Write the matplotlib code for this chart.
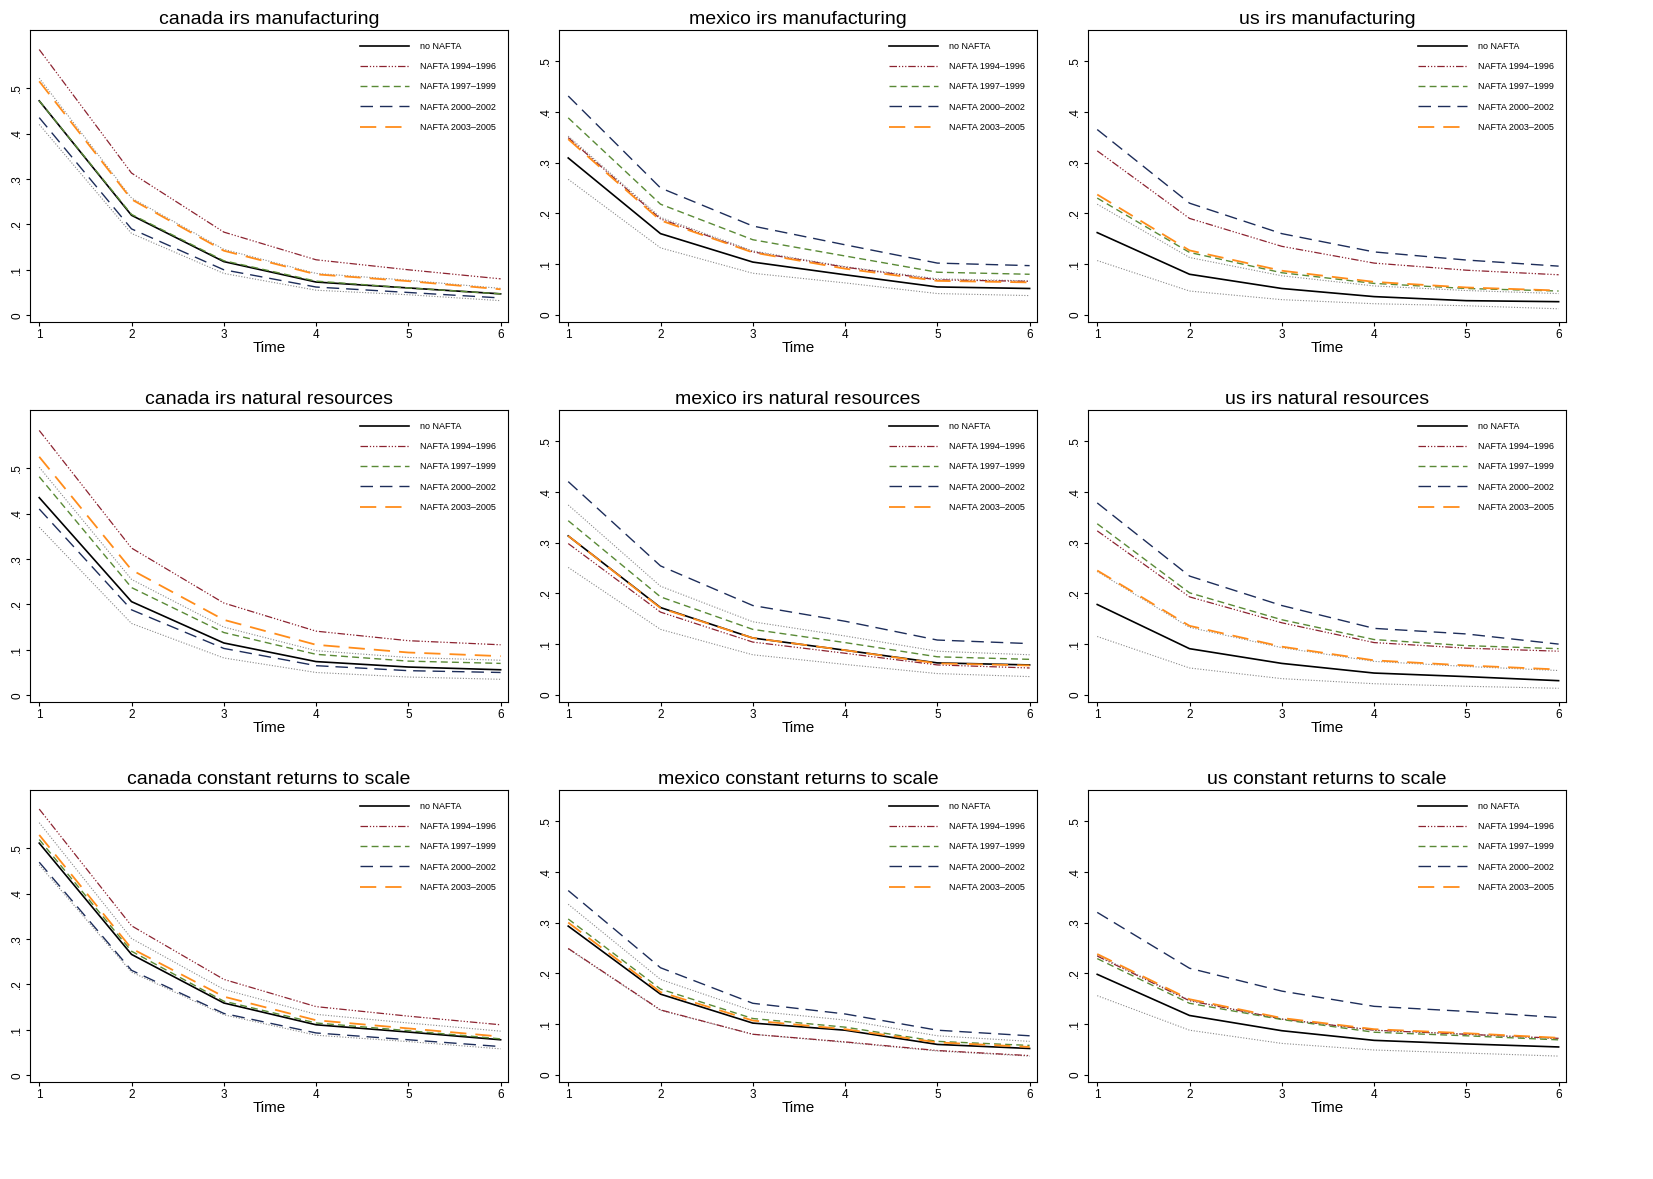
import matplotlib

matplotlib.use("Agg")
import matplotlib.pyplot as plt

plt.rcParams["font.family"] = ["Liberation Sans", "DejaVu Sans"]

time = [1, 2, 3, 4, 5, 6]
series_labels = ["no NAFTA", "NAFTA 1994\u20131996", "NAFTA 1997\u20131999",
                 "NAFTA 2000\u20132002", "NAFTA 2003\u20132005"]
countries = ["canada", "mexico", "us"]
sectors = ["irs manufacturing", "irs natural resources", "constant returns to scale"]

# values per panel: no NAFTA, 1994, 1997, 2000, 2003, upper band, lower band
canada_manuf = [
    [.472, .220, .118, .073, .060, .047],
    [.585, .313, .183, .122, .100, .080],
    [.472, .222, .120, .075, .060, .047],
    [.435, .190, .100, .062, .050, .038],
    [.515, .255, .142, .090, .075, .057],
    [.522, .258, .145, .092, .077, .059],
    [.420, .180, .092, .055, .045, .032],
]
mexico_manuf = [
    [.309, .160, .104, .079, .055, .052],
    [.349, .189, .124, .094, .069, .066],
    [.388, .218, .148, .116, .084, .080],
    [.431, .250, .175, .138, .102, .097],
    [.346, .186, .123, .091, .067, .064],
    [.352, .192, .126, .095, .071, .067],
    [.267, .132, .082, .063, .042, .038],
]
us_manuf = [
    [.162, .080, .052, .036, .028, .026],
    [.323, .190, .135, .102, .088, .079],
    [.230, .123, .083, .062, .052, .047],
    [.365, .220, .160, .124, .108, .096],
    [.237, .127, .087, .065, .054, .048],
    [.218, .113, .077, .057, .048, .042],
    [.107, .047, .030, .022, .018, .012],
]
canada_natres = [
    [.435, .206, .115, .074, .062, .056],
    [.583, .324, .203, .141, .120, .111],
    [.481, .237, .138, .090, .075, .070],
    [.410, .188, .103, .065, .054, .050],
    [.525, .276, .166, .111, .094, .086],
    [.502, .255, .150, .098, .083, .077],
    [.370, .158, .082, .050, .040, .035],
]
mexico_natres = [
    [.313, .172, .112, .088, .063, .059],
    [.298, .163, .104, .082, .059, .053],
    [.343, .193, .129, .103, .075, .070],
    [.420, .254, .176, .145, .108, .101],
    [.313, .171, .112, .088, .062, .058],
    [.374, .214, .144, .116, .086, .079],
    [.251, .129, .079, .060, .042, .036],
]
us_natres = [
    [.178, .091, .062, .043, .036, .028],
    [.323, .193, .142, .103, .092, .086],
    [.337, .201, .148, .109, .097, .091],
    [.378, .234, .176, .131, .120, .100],
    [.245, .136, .095, .068, .058, .050],
    [.243, .133, .093, .066, .056, .048],
    [.115, .053, .032, .022, .017, .013],
]
canada_crs = [
    [.511, .266, .159, .111, .095, .078],
    [.586, .329, .211, .151, .130, .111],
    [.519, .273, .163, .115, .098, .080],
    [.469, .231, .136, .093, .078, .063],
    [.529, .279, .173, .121, .103, .085],
    [.556, .301, .189, .134, .115, .097],
    [.463, .227, .133, .088, .074, .058],
]
mexico_crs = [
    [.293, .159, .102, .088, .060, .052],
    [.249, .128, .080, .065, .048, .038],
    [.307, .169, .111, .094, .066, .058],
    [.363, .211, .141, .120, .088, .077],
    [.300, .163, .107, .090, .064, .055],
    [.336, .188, .126, .108, .077, .066],
    [.248, .127, .080, .064, .047, .037],
]
us_crs = [
    [.198, .117, .087, .068, .061, .055],
    [.234, .146, .110, .088, .080, .072],
    [.229, .141, .109, .084, .077, .069],
    [.320, .210, .165, .135, .125, .113],
    [.238, .149, .112, .090, .082, .073],
    [.236, .147, .110, .088, .080, .071],
    [.156, .088, .062, .049, .043, .037],
]

panels = [
    [canada_manuf, mexico_manuf, us_manuf],
    [canada_natres, mexico_natres, us_natres],
    [canada_crs, mexico_crs, us_crs],
]

styles = [
    dict(color="black", lw=1.2, ls="-"),
    dict(color="#8c2330", lw=0.9, ls=(0, (6, 1.5, 1, 1.5, 1, 1.5, 1, 1.5))),
    dict(color="#5a8a36", lw=1.0, ls=(0, (5, 3))),
    dict(color="#1d2d5a", lw=1.0, ls=(0, (9, 5))),
    dict(color="#ff8c1a", lw=1.3, ls=(0, (9, 5))),
]
band_style = dict(color="#888888", lw=0.8, ls=(0, (1, 1.5)))

W, H = 1653, 1179
fig = plt.figure(figsize=(W / 100, H / 100), dpi=100)
col_x = [30, 559, 1088]
row_y = [30, 410, 790]
ax_w, ax_h = 478, 292
ylims = [(-0.015, 0.628), (-0.014, 0.561), (-0.014, 0.561)]

for r in range(3):
    for c in range(3):
        ax = fig.add_axes([col_x[c] / W, 1 - (row_y[r] + ax_h) / H, ax_w / W, ax_h / H])
        data = panels[r][c]
        for k in (5, 6):
            ax.plot(time, data[k], **band_style)
        for k in range(5):
            ax.plot(time, data[k], label=series_labels[k], **styles[k])
        ax.set_xlim(0.9, 6.08)
        ax.set_ylim(*ylims[c])
        ax.set_xticks(time)
        ax.set_yticks([0, .1, .2, .3, .4, .5])
        ax.set_yticklabels(["0", ".1", ".2", ".3", ".4", ".5"], rotation=90, va="center")
        ax.tick_params(labelsize=8.5, length=3, pad=2)
        ax.set_xlabel("Time", fontsize=11, labelpad=0)
        ax.set_title(f"{countries[c]} {sectors[r]}", fontsize=14, pad=4)
        ax.legend(loc="upper right", frameon=False, fontsize=6.5, handlelength=5.5,
                  labelspacing=1.25, borderaxespad=0.9, handletextpad=1.2)

fig.savefig("out.png", dpi=100)
